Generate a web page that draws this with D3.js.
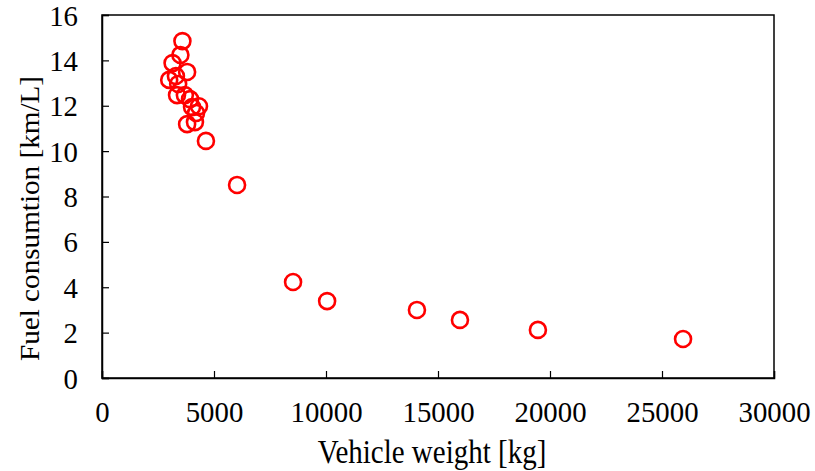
<!DOCTYPE html>
<html><head><meta charset="utf-8">
<script src="https://cdn.jsdelivr.net/npm/d3@7"></script>
<style>body{margin:0;background:#fff}svg text{font-family:"Liberation Serif","Times New Roman",serif;fill:#000}</style>
</head><body><svg id="c" width="815" height="471"></svg>
<script>
const weights = [3590, 3500, 3150, 3800, 3300, 3000, 3400, 3350, 3700, 3930, 4020, 4330, 4200, 3800, 4150, 4640, 6030, 8530, 10050, 14060, 15980, 19460, 25940];
const fuel = [14.85, 14.24, 13.88, 13.49, 13.31, 13.14, 12.96, 12.47, 12.47, 12.29, 11.94, 11.98, 11.68, 11.19, 11.28, 10.45, 8.51, 4.23, 3.39, 3.0, 2.56, 2.12, 1.72];
const xTicks = [0, 5000, 10000, 15000, 20000, 25000, 30000];
const yTicks = [0, 2, 4, 6, 8, 10, 12, 14, 16];
const xTitle = "Vehicle weight [kg]";
const yTitle = "Fuel consumtion [km/L]";

const svg = d3.select("#c");
const L = 102, R = 774, T = 15, B = 378;
const x = d3.scaleLinear().domain([0, 30000]).range([L, R]);
const y = d3.scaleLinear().domain([0, 16]).range([B, T]);

svg.append("rect").attr("x", L).attr("y", T).attr("width", R - L).attr("height", B - T)
  .attr("fill", "none").attr("stroke", "#000").attr("stroke-width", 1.5);

const xa = svg.append("g").attr("transform", `translate(0,${B})`)
  .call(d3.axisBottom(x).tickValues(xTicks).tickSize(-7).tickPadding(0).tickFormat(d3.format("d")));
const ya = svg.append("g").attr("transform", `translate(${L},0)`)
  .call(d3.axisLeft(y).tickValues(yTicks).tickSize(-7).tickPadding(0).tickFormat(d3.format("d")));
[xa, ya].forEach(a => {
  a.select(".domain").attr("stroke", "#000").attr("stroke-width", 1.5);
  a.selectAll(".tick line").attr("stroke", "#000").attr("stroke-width", 1.2);
  a.selectAll(".tick text").attr("font-size", 28).attr("font-family", "Liberation Serif").attr("dy", null).attr("x", null).attr("y", null);
});
xa.selectAll(".tick text").attr("transform", "translate(0,44) scale(1.03,1.08)");
ya.selectAll(".tick text").attr("transform", "translate(-24,10) scale(1.03,1.08)");

svg.append("text").attr("text-anchor", "middle").attr("font-size", 29)
  .attr("transform", `translate(432,463) scale(1,1.15)`).text(xTitle);
svg.append("text").attr("transform", `translate(39,${(T + B) / 2 + 22}) rotate(-90) scale(1.08,1)`)
  .attr("text-anchor", "middle").attr("font-size", 27).text(yTitle);

svg.append("g").selectAll("circle").data(weights.map((w, i) => [w, fuel[i]])).join("circle")
  .attr("cx", d => x(d[0])).attr("cy", d => y(d[1])).attr("r", 8)
  .attr("fill", "none").attr("stroke", "#ff0000").attr("stroke-width", 2.6);
</script></body></html>
